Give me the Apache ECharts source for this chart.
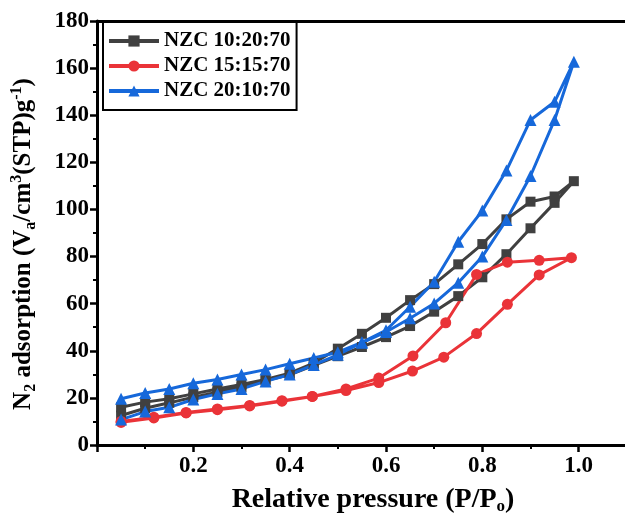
<!DOCTYPE html>
<html><head><meta charset="utf-8">
<script src="https://cdn.jsdelivr.net/npm/echarts@6/dist/echarts.min.js"></script>
<style>html,body{margin:0;padding:0;background:#fff}#c{width:625px;height:513px}</style>
</head><body><div id="c"></div>
<script>
// Series names
const seriesNames = ['NZC 10:20:70', 'NZC 15:15:70', 'NZC 20:10:70'];
// Relative pressure grids
const pAds = [0.05,0.10,0.15,0.20,0.25,0.30,0.35,0.40,0.45,0.50,0.55,0.60,0.65,0.70,0.75,0.80,0.85,0.90,0.95,0.99];
const pDes = [0.95,0.90,0.85,0.80,0.75,0.70,0.65,0.60,0.55,0.50,0.45,0.40,0.35,0.30,0.25,0.20,0.15,0.10,0.05];
const pAdsRed = [0.05,0.118,0.185,0.25,0.317,0.384,0.447,0.517,0.585,0.655,0.72,0.788,0.852,0.918,0.985];
const pDesRed = [0.918,0.852,0.788,0.724,0.656,0.585,0.517,0.447,0.384,0.317,0.25,0.185,0.118,0.05];
// NZC 10:20:70
const grayAds = [12.5,15.6,17.9,20.3,22.4,24.5,27.4,29.8,33.8,37.7,41.6,45.8,50.5,56.6,63.2,71.2,81.0,92.0,102.8,112.0];
const grayDes = [105.5,103.3,95.8,85.3,76.7,68.3,61.5,54.0,47.2,40.9,34.8,30.5,27.8,25.7,23.8,21.7,19.6,18.2,16.0];
// NZC 15:15:70
const redAds = [9.6,11.5,13.6,15.0,16.6,18.6,20.6,23.1,26.5,31.4,37.3,47.3,59.7,72.2,79.5];
const redDes = [78.4,77.6,72.4,51.9,37.8,28.4,23.8,20.6,18.8,16.8,15.3,13.8,11.8,10.0];
// NZC 20:10:70
const blueAds = [10.8,14.2,16.0,19.3,21.7,23.8,27.0,29.9,34.0,38.3,43.4,48.0,53.8,60.1,68.9,80.0,95.5,114.2,138.0,162.7];
const blueDes = [145.7,138.0,116.5,99.5,86.3,69.3,58.7,48.7,43.6,39.4,36.9,34.5,32.0,29.9,27.8,26.2,23.8,22.1,19.6];

const colors = ['#404040', '#ea3338', '#1668da'];
const symbols = ['rect', 'circle', 'triangle'];
const symbolSizes = [10, 11, 12];

function zip(xs, ys) { return xs.map((x, i) => [x, ys[i]]); }
const loops = [
  zip(pAds, grayAds).concat(zip(pDes, grayDes)),
  zip(pAdsRed, redAds).concat(zip(pDesRed, redDes)),
  zip(pAds, blueAds).concat(zip(pDes, blueDes))
];

const FONT = 'Liberation Serif';
const chart = echarts.init(document.getElementById('c'));
chart.setOption({
  animation: false,
  backgroundColor: '#fff',
  textStyle: { fontFamily: FONT },
  grid: { left: 97, right: -50, top: 21, bottom: 68, containLabel: false, outerBoundsMode: 'none' },
  legend: {
    orient: 'vertical', left: 103, top: 22,
    data: seriesNames,
    itemWidth: 50, itemHeight: 14, itemGap: 3,
    padding: [8, 6, 8, 4],
    borderColor: '#000', borderWidth: 2,
    lineStyle: { width: 4 },
    textStyle: { fontFamily: FONT, fontWeight: 'bold', fontSize: 21, color: '#000', lineHeight: 22 }
  },
  xAxis: [{
    type: 'value', min: 0, max: 1.2, interval: 0.2,
    axisLine: { show: true, onZero: false, lineStyle: { color: '#000', width: 3 } },
    axisTick: { show: true, inside: false, length: 7, lineStyle: { color: '#000', width: 2.5 } },
    minorTick: { show: true, splitNumber: 2, length: 4, lineStyle: { color: '#000', width: 2 } },
    splitLine: { show: false },
    axisLabel: {
      margin: 10, fontSize: 23, fontWeight: 'bold', color: '#000', fontFamily: FONT,
      formatter: v => (v === 0 ? '' : v.toFixed(1))
    },
    name: 'Relative pressure (P/P{sub|o})',
    nameLocation: 'middle', nameGap: 40,
    nameTextStyle: {
      fontSize: 28, fontWeight: 'bold', color: '#000', fontFamily: FONT, lineHeight: 30,
      padding: [0, 26, 0, 0],
      rich: { sub: { fontSize: 17, fontWeight: 'bold', fontFamily: FONT, verticalAlign: 'bottom', lineHeight: 12, color: '#000' } }
    }
  }, {
    type: 'value', min: 0, max: 1.2, position: 'top',
    axisLine: { show: true, onZero: false, lineStyle: { color: '#000', width: 3 } },
    axisTick: { show: false }, axisLabel: { show: false }, splitLine: { show: false }
  }],
  yAxis: {
    type: 'value', min: 0, max: 180, interval: 20,
    axisLine: { show: true, onZero: false, lineStyle: { color: '#000', width: 3 } },
    axisTick: { show: true, inside: false, length: 7, lineStyle: { color: '#000', width: 2.5 } },
    minorTick: { show: true, splitNumber: 2, length: 4, lineStyle: { color: '#000', width: 2 } },
    splitLine: { show: false },
    axisLabel: { margin: 8, fontSize: 23, fontWeight: 'bold', color: '#000', fontFamily: FONT },
    name: 'N{sub|2} adsorption (V{sub|a}/cm{sup|3}(STP)g{sup|-1})',
    nameLocation: 'middle', nameRotate: 90, nameGap: 58,
    nameTextStyle: {
      fontSize: 25, fontWeight: 'bold', color: '#000', fontFamily: FONT, lineHeight: 30,
      padding: [0, 22, 0, 0],
      rich: {
        sub: { fontSize: 16, fontWeight: 'bold', fontFamily: FONT, verticalAlign: 'bottom', lineHeight: 14, color: '#000' },
        sup: { fontSize: 16, fontWeight: 'bold', fontFamily: FONT, verticalAlign: 'top', lineHeight: 14, color: '#000' }
      }
    }
  },
  series: loops.map((d, i) => ({
    name: seriesNames[i], type: 'line', data: d, xAxisIndex: 0,
    symbol: symbols[i], symbolSize: symbolSizes[i], showSymbol: true,
    lineStyle: { color: colors[i], width: 3 },
    itemStyle: { color: colors[i], borderWidth: 0 },
    emphasis: { disabled: true }
  }))
});
</script></body></html>
